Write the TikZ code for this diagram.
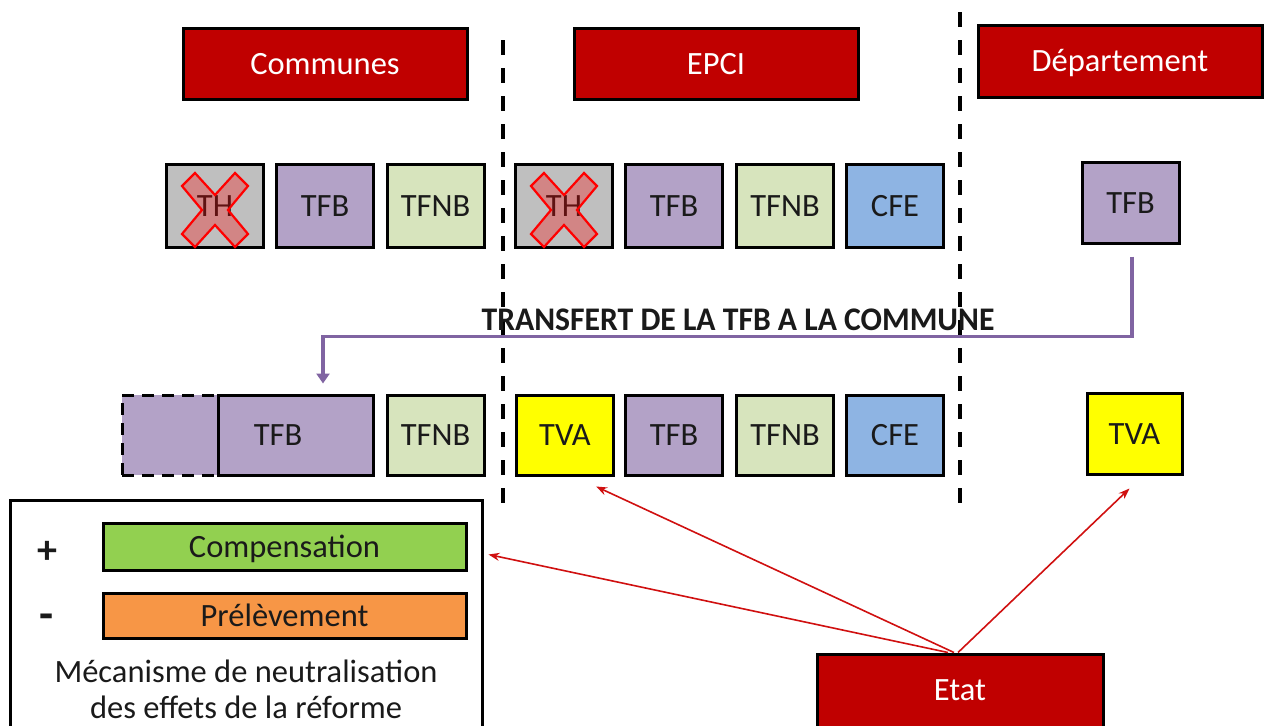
\documentclass[tikz,border=0pt]{standalone}
\usepackage{fontspec}
\setmainfont{Carlito}
\usetikzlibrary{calc,arrows.meta}
\definecolor{hdrred}{HTML}{C00000}
\definecolor{thgray}{HTML}{BFBFBF}
\definecolor{tfbpurple}{HTML}{B3A2C7}
\definecolor{tfnbgreen}{HTML}{D7E4BD}
\definecolor{cfeblue}{HTML}{8EB4E3}
\definecolor{tvayellow}{HTML}{FFFF00}
\definecolor{compgreen}{HTML}{92D050}
\definecolor{prelorange}{HTML}{F79646}
\definecolor{flowpurple}{HTML}{8064A2}
\definecolor{arrred}{HTML}{D01010}
\definecolor{txt}{HTML}{1A1A1A}
\begin{document}
\begin{tikzpicture}[x=1pt,y=-1pt,
  every node/.style={font=\fontsize{32.5}{38}\selectfont, text=txt},
  boxtext/.style={text height=23pt, text depth=2pt},
  tax/.style={draw=black, line width=3pt, inner sep=0pt, minimum width=97pt, minimum height=83pt, boxtext},
  hdr/.style={draw=black, line width=3pt, fill=hdrred, text=white, inner sep=0pt, minimum width=284pt, minimum height=71pt, boxtext},
  th/.style={tax, fill=thgray},
  tfb/.style={tax, fill=tfbpurple},
  tfnb/.style={tax, fill=tfnbgreen},
  cfe/.style={tax, fill=cfeblue},
  tva/.style={tax, fill=tvayellow},
  legbar/.style={draw=black, line width=3pt, inner sep=0pt, minimum width=363pt, minimum height=46pt, boxtext},
  crossmark/.style={draw=red, line width=2.2pt, fill=red, fill opacity=0.3, line join=miter},
  divider/.style={line width=3.5pt, dash pattern=on 15pt off 13pt},
  stateflow/.style={draw=arrred, line width=1.6pt, -{Stealth[length=11pt,width=8pt]}},
  transferflow/.style={draw=flowpurple, line width=3.5pt, -{Triangle[length=10pt,width=13pt]}}
]
\useasboundingbox (0,0) rectangle (1270,726);
\clip (0,0) rectangle (1270,726);

% column dividers
\draw[divider] (503,40) -- (503,505);
\draw[divider] (960,12) -- (960,505);

% levels of government
\node[hdr] (communes) at (325,63.5) {Communes};
\node[hdr] (epci) at (716,63.5) {EPCI};
\node[hdr, minimum height=72pt] (dept) at (1120,61) {Département};

% taxes before the reform
\node[th] (thC) at (215,206) {TH};
\node[tfb] (tfbC1) at (325,206) {TFB};
\node[tfnb] (tfnbC1) at (435.5,206) {TFNB};
\node[th] (thE) at (564,206) {TH};
\node[tfb] (tfbE1) at (674,206) {TFB};
\node[tfnb] (tfnbE1) at (785,206) {TFNB};
\node[cfe] (cfeE1) at (895,206) {CFE};
\node[tfb, minimum height=81pt] (tfbD) at (1130.5,202.5) {TFB};

% abolished tax marks
\foreach \c in {thC, thE}{
  \draw[crossmark] ($(\c.center)+(0,4)$) ++(-33,-24) -- ++(13,-13) -- ++(20,22) -- ++(20,-22)
    -- ++(13,13) -- ++(-20,24) -- ++(20,24) -- ++(-13,13) -- ++(-20,-22) -- ++(-20,22)
    -- ++(-13,-13) -- ++(20,-24) -- cycle;
}

% taxes after the reform
\node[tfb, minimum width=96pt, minimum height=80pt, draw=black, dash pattern=on 12pt off 8pt] (ghost) at (170,435) {};
\node[tfb, minimum width=155pt, minimum height=80pt] (tfbC2) at (295.5,435) {};
\node[boxtext] at (278,435) {TFB};
\node[tfnb, minimum height=80pt] (tfnbC2) at (435.5,435) {TFNB};
\node[tva, minimum height=80pt] (tvaE) at (565,435) {TVA};
\node[tfb, minimum height=80pt] (tfbE2) at (674,435) {TFB};
\node[tfnb, minimum height=80pt] (tfnbE2) at (785,435) {TFNB};
\node[cfe, minimum height=80pt] (cfeE2) at (895,435) {CFE};
\node[tva, minimum width=95pt, minimum height=81pt] (tvaD) at (1134.5,433.5) {TVA};

% transfer of the departmental property tax
\draw[transferflow] ($(tfbD.south)+(1.5,12)$) |- ($(tfbC2.north)+(27.5,-57)$) -- ($(tfbC2.north)+(27.5,-10)$);
\node[font=\bfseries\fontsize{33}{38}\selectfont, xscale=0.96, boxtext] (transfer) at (738,320) {TRANSFERT DE LA TFB A LA COMMUNE};

% neutralisation mechanism
\node[draw=black, line width=3pt, minimum width=472pt, minimum height=235pt, inner sep=0pt] (legend) at (246,617.5) {};
\node[legbar, fill=compgreen, minimum height=47pt] (comp) at (284.5,546.5) {Compensation};
\node[legbar, fill=prelorange, minimum height=45pt] (prel) at (284.5,615.5) {Prélèvement};
\node[font=\bfseries\fontsize{40}{44}\selectfont, inner sep=0pt, boxtext] (plus) at (47,553) {+};
\node[font=\bfseries\fontsize{46}{46}\selectfont, inner sep=0pt, boxtext] (minus) at (47,619) {-};
\node[align=center, font=\fontsize{32.5}{36}\selectfont] (mech) at (246,689) {Mécanisme de neutralisation\\des effets de la réforme};

% state
\node[hdr, minimum width=286pt, minimum height=76pt] (etat) at (960,692) {};
\node[text=white, boxtext] at (960,690) {Etat};

% state flows
\draw[stateflow] ($(etat.north)+(-12,0)$) -- ($(legend.north east)+(5,56)$);
\draw[stateflow] ($(etat.north)+(-6,0)$) -- ($(tvaE.south)+(31,10)$);
\draw[stateflow] ($(etat.north)+(-2,0)$) -- ($(tvaD.south)+(-5,13)$);
\end{tikzpicture}
\end{document}
